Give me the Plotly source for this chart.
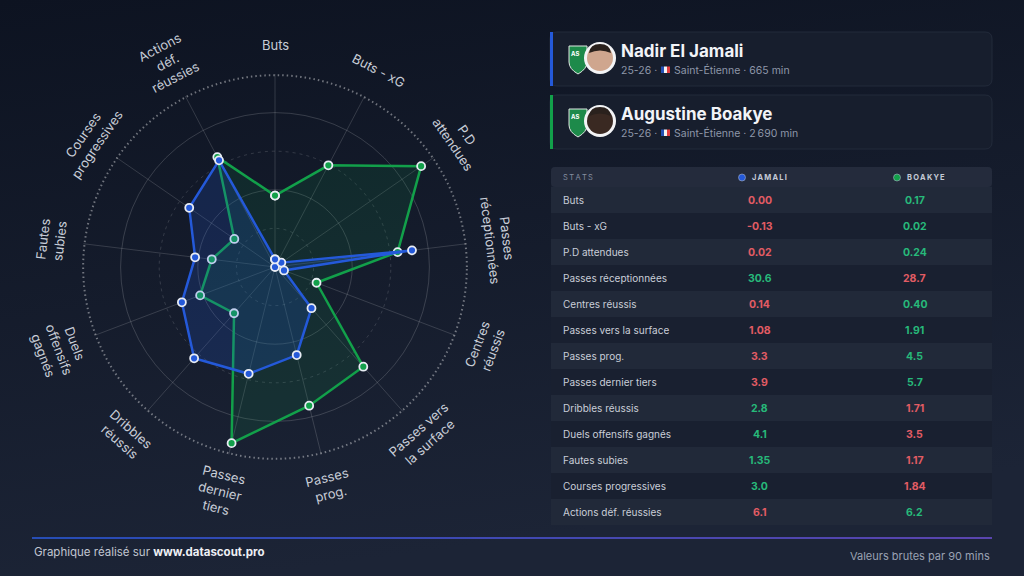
import base64
import math
import plotly.graph_objects as go

# ---------------- DATA ----------------
categories = ["Buts", "Buts - xG", "P.D attendues", "Passes réceptionnées", "Centres réussis",
              "Passes vers la surface", "Passes prog.", "Passes dernier tiers", "Dribbles réussis",
              "Duels offensifs gagnés", "Fautes subies", "Courses progressives", "Actions déf. réussies"]
axis_labels = ["Buts", "Buts - xG", "P.D<br>attendues", "Passes<br>réceptionnées", "Centres<br>réussis",
               "Passes vers<br>la surface", "Passes<br>prog.", "Passes<br>dernier<br>tiers", "Dribbles<br>réussis",
               "Duels<br>offensifs<br>gagnés", "Fautes<br>subies", "Courses<br>progressives", "Actions<br>déf.<br>réussies"]
# normalised radar values (0-1)
jamali_radar = [0.04, 0.0, 0.04, 0.715, 0.05, 0.285, 0.47, 0.57, 0.632, 0.516, 0.417, 0.54, 0.624]
boakye_radar = [0.37, 0.595, 0.92, 0.64, 0.23, 0.69, 0.74, 0.94, 0.32, 0.415, 0.33, 0.256, 0.643]
# raw values per 90 mins (table)
jamali_raw = ["0.00", "-0.13", "0.02", "30.6", "0.14", "1.08", "3.3", "3.9", "2.8", "4.1", "1.35", "3.0", "6.1"]
boakye_raw = ["0.17", "0.02", "0.24", "28.7", "0.40", "1.91", "4.5", "5.7", "1.71", "3.5", "1.17", "1.84", "6.2"]
player_names = ["Nadir El Jamali", "Augustine Boakye"]
player_short = ["JAMALI", "BOAKYE"]
player_season = ["25-26", "25-26"]
player_club = ["Saint-Étienne", "Saint-Étienne"]
player_minutes = ["665 min", "2\u2009690 min"]

# ---------------- STYLE ----------------
W, H = 1024, 576
FONT = "Inter"
BLUE = "#2459d9"
GREEN = "#12a04a"
UP = "#27b97a"
DOWN = "#e25c64"
CX, CY, R = 275, 267, 193

fig = go.Figure()

# helper cartesian layer in pixel units
fig.add_trace(go.Scatter(x=[0], y=[0], mode="markers", marker=dict(opacity=0),
                         hoverinfo="skip", showlegend=False))

# polar grids (dummy traces to create subplots)
for sp in ["polar", "polar2", "polar4"]:
    fig.add_trace(go.Scatterpolar(r=[0] * len(categories), theta=categories, mode="markers",
                                  marker=dict(opacity=0, size=1), hoverinfo="skip",
                                  showlegend=False, subplot=sp))

for vals, col, fillc in [(boakye_radar, GREEN, "rgba(18,160,74,0.13)"),
                         (jamali_radar, BLUE, "rgba(36,89,217,0.2)")]:
    fig.add_trace(go.Scatterpolar(
        r=vals + vals[:1], theta=categories + categories[:1], subplot="polar3",
        mode="lines+markers", fill="toself", fillcolor=fillc,
        line=dict(color=col, width=2.5),
        marker=dict(size=8, color=col, line=dict(color="#e8ecf4", width=1.8)),
        hoverinfo="skip", showlegend=False))

dom = dict(x=[(CX - R) / W, (CX + R) / W], y=[(H - CY - R) / H, (H - CY + R) / H])


def polar_cfg(tickvals, dash, gcol, gw, spokes, rmax=1.0):
    return dict(
        domain=dom, bgcolor="rgba(0,0,0,0)",
        radialaxis=dict(range=[0, rmax], tickvals=tickvals, showticklabels=False, ticks="",
                        showline=False, showgrid=bool(tickvals), gridcolor=gcol,
                        griddash=dash, gridwidth=gw),
        angularaxis=dict(rotation=90, direction="clockwise", type="category",
                         categoryarray=categories, showgrid=spokes,
                         gridcolor="rgba(255,255,255,0.15)", showticklabels=False,
                         ticks="", showline=False))


shapes = []
annotations = []


def rrect(x0, y0, x1, y1, r):
    return (f"M{x0+r},{y0} L{x1-r},{y0} Q{x1},{y0} {x1},{y0+r} L{x1},{y1-r} Q{x1},{y1} {x1-r},{y1} "
            f"L{x0+r},{y1} Q{x0},{y1} {x0},{y1-r} L{x0},{y0+r} Q{x0},{y0} {x0+r},{y0} Z")


def text(x, y, s, size, color, xanchor="left", **kw):
    annotations.append(dict(x=x, y=y, xref="x", yref="y", text=s, showarrow=False,
                            xanchor=xanchor, yanchor="middle",
                            font=dict(family=FONT, size=size, color=color), **kw))


# radar axis labels
nl_r = {1: 222, 2: 225, 3: 231}
n = len(categories)
for i, lab in enumerate(axis_labels):
    th = i * 360 / n
    nlines = lab.count("<br>") + 1
    rr = nl_r[nlines]
    x = CX + rr * math.sin(math.radians(th))
    y = CY - rr * math.cos(math.radians(th))
    if th <= 90:
        ang = th
    elif th >= 270:
        ang = th - 360
    else:
        ang = th - 180
    text(x, y, lab, 13, "#c8cdd7", xanchor="center", textangle=ang, align="center")

# player cards
skins = ["#cfa68e", "#3a2922"]
accent = [BLUE, GREEN]
for k in range(2):
    y0 = 32 + 63 * k
    y1 = y0 + 54
    yc = (y0 + y1) / 2
    shapes.append(dict(type="path", path=rrect(550, y0, 992, y1, 7), xref="x", yref="y",
                       fillcolor="#171e2d", line=dict(color="#222a3a", width=1), layer="below"))
    shapes.append(dict(type="rect", x0=550, x1=553, y0=y0, y1=y1, xref="x", yref="y",
                       fillcolor=accent[k], line=dict(width=0), layer="below"))
    # crest
    shapes.append(dict(type="path", xref="x", yref="y", layer="below",
                       path=f"M569,{yc-13} L587,{yc-13} L587,{yc+3} Q587,{yc+10} 578,{yc+15} Q569,{yc+10} 569,{yc+3} Z",
                       fillcolor="#1d8a4a", line=dict(color="#dfe7e2", width=1)))
    text(575, yc - 6, "<b>AS</b>", 6, "#ffffff", xanchor="center")
    # avatar
    shapes.append(dict(type="circle", xref="x", yref="y", x0=584, x1=616, y0=yc - 17, y1=yc + 15,
                       fillcolor="#f3f4f6", line=dict(width=0), layer="below"))
    shapes.append(dict(type="circle", xref="x", yref="y", x0=587, x1=613, y0=yc - 14, y1=yc + 12,
                       fillcolor=skins[k], line=dict(width=0), layer="below"))
    shapes.append(dict(type="path", xref="x", yref="y", layer="below",
                       path=f"M589,{yc-6} Q590,{yc-15} 600,{yc-15} Q610,{yc-15} 611,{yc-6} Q600,{yc-11} 589,{yc-6} Z",
                       fillcolor="#2a211d", line=dict(width=0)))
    text(619, yc - 8, f"<b>{player_names[k]}</b>", 17, "#f2f4f8")
    text(619, yc + 11, f"{player_season[k]} ·", 10.5, "#8e97a9")
    for j, fc in enumerate(["#2450b5", "#f4f4f4", "#e23c40"]):
        shapes.append(dict(type="rect", xref="x", yref="y", x0=661 + 3 * j, x1=664 + 3 * j,
                           y0=yc + 7.5, y1=yc + 14, fillcolor=fc, line=dict(width=0), layer="below"))
    text(672, yc + 11, f"{player_club[k]} · {player_minutes[k]}", 10.5, "#8e97a9")

# ---------------- table ----------------
def spaced(s):
    return "\u2009".join(s)


jam_f = [float(v) for v in jamali_raw]
boa_f = [float(v) for v in boakye_raw]
jam_col = [UP if a > b else DOWN for a, b in zip(jam_f, boa_f)]
boa_col = [UP if b > a else DOWN for a, b in zip(jam_f, boa_f)]

TX0, TX1 = 551, 992
TOP, HDR, ROWH = 167, 20, 26
COL_LABEL, COL_J, COL_B = 561, 759.5, 914.5
bottom = TOP + HDR + ROWH * n
shapes.append(dict(type="path", path=rrect(TX0, TOP, TX1, bottom, 4), xref="x", yref="y",
                   fillcolor="#192030", line=dict(width=0), layer="below"))
shapes.append(dict(type="path", path=rrect(TX0, TOP, TX1, TOP + HDR, 4), xref="x", yref="y",
                   fillcolor="#242b3c", line=dict(width=0), layer="below"))
for i in range(n):
    ry0 = TOP + HDR + ROWH * i
    if i % 2 == 0:
        shapes.append(dict(type="rect", x0=TX0, x1=TX1, y0=ry0, y1=ry0 + ROWH, xref="x", yref="y",
                           fillcolor="#212939", line=dict(width=0), layer="below"))
    yc = ry0 + ROWH / 2
    text(COL_LABEL, yc, categories[i], 10, "#c9ced8")
    text(COL_J, yc, f"<b>{jamali_raw[i]}</b>", 10.5, jam_col[i], xanchor="center")
    text(COL_B, yc, f"<b>{boakye_raw[i]}</b>", 10.5, boa_col[i], xanchor="center")

hy = TOP + HDR / 2
text(COL_LABEL, hy, spaced("STATS"), 7.5, "#858ea1")
for cx_txt, dotx, name, col in [(750, 742, player_short[0], BLUE), (905, 897, player_short[1], GREEN)]:
    shapes.append(dict(type="circle", xref="x", yref="y", x0=dotx - 3.5, x1=dotx + 3.5,
                       y0=hy - 3.5 + 0.5, y1=hy + 3.5 + 0.5, fillcolor=col,
                       line=dict(color="#aab3c5", width=0.6), layer="above"))
    text(cx_txt, hy + 0.5, f"<b>{spaced(name)}</b>", 7.5, "#c4cad6")

# footer line (blue -> purple)
segs = 24
c0, c1 = (45, 92, 225), (110, 80, 215)
for s in range(segs):
    t = s / (segs - 1)
    col = "rgb({},{},{})".format(*[int(a + (b - a) * t) for a, b in zip(c0, c1)])
    shapes.append(dict(type="line", xref="x", yref="y", x0=32 + 960 * s / segs,
                       x1=32 + 960 * (s + 1) / segs, y0=538, y1=538,
                       line=dict(color=col, width=1.5), layer="below"))
text(32, 552, "Graphique réalisé sur <b><span style='color:#eef0f5'>www.datascout.pro</span></b>",
     11.5, "#c1c6d1")
text(992, 556, "Valeurs brutes par 90 mins", 11, "#9aa2b3", xanchor="right")

svg = ('<svg xmlns="http://www.w3.org/2000/svg" width="1024" height="576">'
       '<defs><linearGradient id="g" x1="0" y1="0" x2="0.25" y2="1">'
       '<stop offset="0" stop-color="#0d1321"/><stop offset="1" stop-color="#1c2436"/>'
       '</linearGradient></defs><rect width="1024" height="576" fill="url(#g)"/></svg>')
bg_uri = "data:image/svg+xml;base64," + base64.b64encode(svg.encode()).decode()

fig.update_layout(
    width=W, height=H, margin=dict(l=0, r=0, t=0, b=0),
    paper_bgcolor="#141b2b", plot_bgcolor="rgba(0,0,0,0)",
    xaxis=dict(range=[0, W], domain=[0, 1], visible=False, fixedrange=True),
    yaxis=dict(range=[H, 0], domain=[0, 1], visible=False, fixedrange=True),
    polar=polar_cfg([0.2, 0.6], "3px,4px", "rgba(255,255,255,0.14)", 1, True),
    polar2=polar_cfg([0.4, 0.8], "solid", "rgba(255,255,255,0.16)", 1, False),
    polar4=polar_cfg([1.0], "1.5px,3px", "rgba(255,255,255,0.4)", 1.5, False, rmax=1.006),
    polar3=polar_cfg([], "solid", "rgba(0,0,0,0)", 1, False),
    shapes=shapes, annotations=annotations,
    images=[dict(source=bg_uri, xref="paper", yref="paper", x=0, y=1, sizex=1, sizey=1,
                 sizing="stretch", xanchor="left", yanchor="top", layer="below")],
    showlegend=False, font=dict(family=FONT),
)

fig.write_html("out.html", config={"displayModeBar": False},
               post_script="document.body.style.margin='0';document.body.style.overflow='hidden';"
                           "document.body.style.background='#141b2b';")
